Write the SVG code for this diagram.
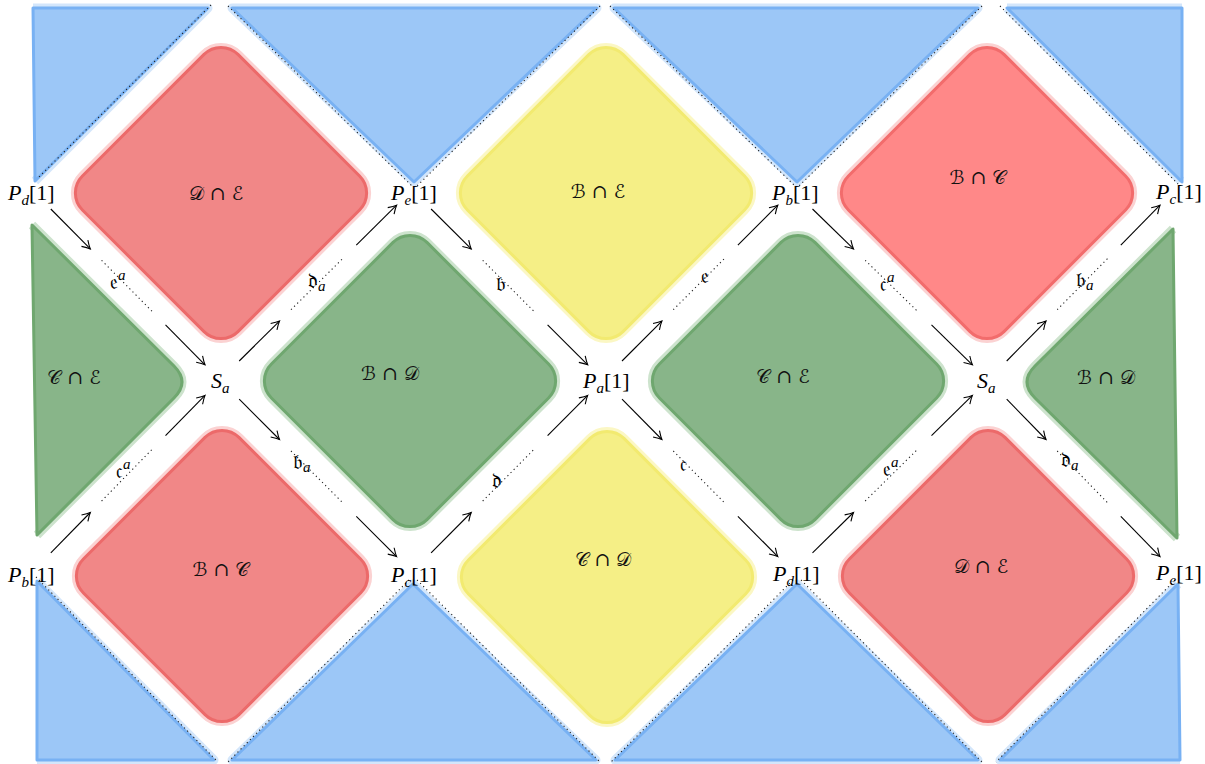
<svg xmlns="http://www.w3.org/2000/svg" width="1205" height="764" viewBox="0 0 1205 764">
<defs>
<style>
.halo{stroke-width:9;stroke-linejoin:round;fill:none}
.edge{stroke-width:3;stroke-linejoin:round}
.red .halo{stroke:#fbd2d2}.red .edge{stroke:#ec6a6a;fill:#f18787}
.redb .halo{stroke:#fbd2d2}.redb .edge{stroke:#f26c6c;fill:#ff8888}
.yel .halo{stroke:#fbf7c4}.yel .edge{stroke:#f2ea70;fill:#f5ef86}
.grn .halo{stroke:#cde3cd}.grn .edge{stroke:#6fa76f;fill:#88b589}
.blu .halo{stroke:#d3e6fb}.blu .edge{stroke:#78b1f3;fill:#9cc7f7}
.dots{stroke:#222;stroke-width:1.1;stroke-dasharray:1.2 3.2;fill:none}
.arr{stroke:#000;stroke-width:1.1;fill:none;marker-end:url(#ah)}
.lbl{font-family:"DejaVu Serif","DejaVu Sans","Noto Sans",serif;font-size:19px;fill:#111}
.node{font-family:"Liberation Serif",serif;font-size:22px;fill:#000}
.it{font-style:italic}
.sub{font-family:"Liberation Serif",serif;font-style:italic;font-size:15px}
.frak{font-family:"DejaVu Serif","DejaVu Sans","Noto Sans",serif;font-size:21px;fill:#000}
</style>
<marker id="ah" viewBox="-9 -6 11 12" refX="0" refY="0" markerWidth="11" markerHeight="12" markerUnits="userSpaceOnUse" orient="auto">
<path d="M-8,-4.5 Q-3,-1.2 0,0 Q-3,1.2 -8,4.5" stroke="#000" stroke-width="1.1" fill="none"/>
</marker>
<rect id="dia" x="-110" y="-110" width="220" height="220" rx="24"/>
</defs>

<g id="blue-triangles" class="blu">
<g id="blue-tl"><path class="halo" d="M33,8 L208,8 L35,181"/><path class="edge" d="M33,8 L208,8 L35,181 Z"/></g>
<g id="blue-t1"><path class="halo" d="M232,8 L597,8 L414,182 Z"/><path class="edge" d="M232,8 L597,8 L414,182 Z"/></g>
<g id="blue-t2"><path class="halo" d="M614,8 L978,8 L797,182 Z"/><path class="edge" d="M614,8 L978,8 L797,182 Z"/></g>
<g id="blue-tr"><path class="halo" d="M1007,8 L1182,8 M1007,8 L1181,181"/><path class="edge" d="M1007,8 L1182,8 L1182,182 Z"/></g>
<g id="blue-bl"><path class="halo" d="M37,581 L214,760 L37,760"/><path class="edge" d="M37,581 L214,760 L37,760 Z"/></g>
<g id="blue-b1"><path class="halo" d="M413,584 L596,760 L232,760 Z"/><path class="edge" d="M413,584 L596,760 L232,760 Z"/></g>
<g id="blue-b2"><path class="halo" d="M797,584 L978,760 L615,760 Z"/><path class="edge" d="M797,584 L978,760 L615,760 Z"/></g>
<g id="blue-br"><path class="halo" d="M1178,584 L1000,760 L1180,760"/><path class="edge" d="M1178,584 L1180,760 L1000,760 Z"/></g>
</g>

<g id="blue-dots">
<path class="dots" d="M211,5 L37,179"/>
<path class="dots" d="M228,6 L412,186"/>
<path class="dots" d="M600,6 L417,186"/>
<path class="dots" d="M610,6 L795,186"/>
<path class="dots" d="M982,6 L799,186"/>
<path class="dots" d="M1000,6 L1178,184"/>
<path class="dots" d="M36,577 L218,762"/>
<path class="dots" d="M409,580 L228,762"/>
<path class="dots" d="M417,580 L600,762"/>
<path class="dots" d="M793,580 L611,762"/>
<path class="dots" d="M801,580 L982,762"/>
<path class="dots" d="M1175,580 L996,762"/>
</g>

<g id="n-de-top" class="red"><use href="#dia" class="halo" transform="translate(221,193) rotate(45)"/><use href="#dia" class="edge" transform="translate(221,193) rotate(45)"/><text class="lbl" x="216" y="200" text-anchor="middle">𝒟 ∩ ℰ</text></g>
<g id="n-be-top" class="yel"><use href="#dia" class="halo" transform="translate(606,193) rotate(45)"/><use href="#dia" class="edge" transform="translate(606,193) rotate(45)"/><text class="lbl" x="598" y="198" text-anchor="middle">ℬ ∩ ℰ</text></g>
<g id="n-bc-top" class="redb"><use href="#dia" class="halo" transform="translate(987,193) rotate(45)"/><use href="#dia" class="edge" transform="translate(987,193) rotate(45)"/><text class="lbl" x="978" y="184" text-anchor="middle">ℬ ∩ 𝒞</text></g>
<g id="n-bd-mid" class="grn"><use href="#dia" class="halo" transform="translate(410,381) rotate(45)"/><use href="#dia" class="edge" transform="translate(410,381) rotate(45)"/><text class="lbl" x="390" y="380" text-anchor="middle">ℬ ∩ 𝒟</text></g>
<g id="n-ce-mid" class="grn"><use href="#dia" class="halo" transform="translate(798,381) rotate(45)"/><use href="#dia" class="edge" transform="translate(798,381) rotate(45)"/><text class="lbl" x="783" y="383" text-anchor="middle">𝒞 ∩ ℰ</text></g>
<g id="n-bc-bot" class="red"><use href="#dia" class="halo" transform="translate(222,576) rotate(45)"/><use href="#dia" class="edge" transform="translate(222,576) rotate(45)"/><text class="lbl" x="221" y="576" text-anchor="middle">ℬ ∩ 𝒞</text></g>
<g id="n-cd-bot" class="yel"><use href="#dia" class="halo" transform="translate(607,577) rotate(45)"/><use href="#dia" class="edge" transform="translate(607,577) rotate(45)"/><text class="lbl" x="603" y="566" text-anchor="middle">𝒞 ∩ 𝒟</text></g>
<g id="n-de-bot" class="red"><use href="#dia" class="halo" transform="translate(988,576) rotate(45)"/><use href="#dia" class="edge" transform="translate(988,576) rotate(45)"/><text class="lbl" x="981" y="573" text-anchor="middle">𝒟 ∩ ℰ</text></g>
<g id="n-ce-left" class="grn"><path class="halo" d="M32,225 L174,366 Q190,382 174,398 L37,535"/><path class="edge" d="M32,225 L174,366 Q190,382 174,398 L37,535 Z"/><text class="lbl" x="74" y="384" text-anchor="middle">𝒞 ∩ ℰ</text></g>
<g id="n-bd-right" class="grn"><path class="halo" d="M1173,229 L1035,366 Q1019,382 1035,398 L1177,538"/><path class="edge" d="M1173,229 L1035,366 Q1019,382 1035,398 L1177,538 Z"/><text class="lbl" x="1106" y="384" text-anchor="middle">ℬ ∩ 𝒟</text></g>

<g id="connectors">
<g id="e1"><path class="arr" d="M50.8,209 L90.3,248.9"/><path class="dots" d="M101.6,260.3 L152.3,311.6"/><path class="arr" d="M165.5,324.9 L205,364.8"/><text class="frak" x="110" y="289">𝔢<tspan class="sub" font-size="14" dy="-9">a</tspan></text></g>
<g id="e2"><path class="arr" d="M239.2,361 L279.5,321.1"/><path class="dots" d="M291,309.7 L342.9,258.4"/><path class="arr" d="M356.3,245.1 L396.6,205.2"/><text class="frak" x="308" y="288">𝔡<tspan class="sub" font-size="14" dy="3">a</tspan></text></g>
<g id="e3"><path class="arr" d="M431.1,209 L471.2,248.9"/><path class="dots" d="M482.7,260.3 L534.2,311.6"/><path class="arr" d="M547.6,324.9 L587.7,364.8"/><text class="frak" x="496" y="291">𝔟</text></g>
<g id="e4"><path class="arr" d="M622,361 L661.9,321.1"/><path class="dots" d="M673.3,309.7 L724.6,258.4"/><path class="arr" d="M737.9,245.1 L777.8,205.2"/><text class="frak" x="701" y="283">𝔢</text></g>
<g id="e5"><path class="arr" d="M812.5,209 L853.5,248.9"/><path class="dots" d="M865.2,260.3 L917.8,311.6"/><path class="arr" d="M931.5,324.9 L972.4,364.8"/><text class="frak" x="880" y="291">𝔠<tspan class="sub" font-size="14" dy="-9">a</tspan></text></g>
<g id="e6"><path class="arr" d="M1006.7,361 L1046,321.1"/><path class="dots" d="M1057.2,309.7 L1107.7,258.4"/><path class="arr" d="M1120.8,245.1 L1160,205.2"/><text class="frak" x="1076" y="287">𝔟<tspan class="sub" font-size="14" dy="3">a</tspan></text></g>
<g id="e7"><path class="arr" d="M50.8,552.8 L90.3,512.5"/><path class="dots" d="M101.6,501 L152.3,449.1"/><path class="arr" d="M165.5,435.7 L205,395.4"/><text class="frak" x="116" y="478">𝔠<tspan class="sub" font-size="14" dy="-9">a</tspan></text></g>
<g id="e8"><path class="arr" d="M239.2,399.2 L279.5,439.5"/><path class="dots" d="M291,451 L342.9,502.9"/><path class="arr" d="M356.3,516.3 L396.6,556.6"/><text class="frak" x="293" y="469">𝔟<tspan class="sub" font-size="14" dy="3">a</tspan></text></g>
<g id="e9"><path class="arr" d="M431.1,552.8 L471.2,512.5"/><path class="dots" d="M482.7,501 L534.2,449.1"/><path class="arr" d="M547.6,435.7 L587.7,395.4"/><text class="frak" x="492" y="488">𝔡</text></g>
<g id="e10"><path class="arr" d="M622,399.2 L661.9,439.5"/><path class="dots" d="M673.3,451 L724.6,502.9"/><path class="arr" d="M737.9,516.3 L777.8,556.6"/><text class="frak" x="680" y="471">𝔠</text></g>
<g id="e11"><path class="arr" d="M812.5,552.8 L853.5,512.5"/><path class="dots" d="M865.2,501 L917.8,449.1"/><path class="arr" d="M931.5,435.7 L972.4,395.4"/><text class="frak" x="883" y="476">𝔢<tspan class="sub" font-size="14" dy="-9">a</tspan></text></g>
<g id="e12"><path class="arr" d="M1006.7,399.2 L1046,439.5"/><path class="dots" d="M1057.2,451 L1107.7,502.9"/><path class="arr" d="M1120.8,516.3 L1160,556.6"/><text class="frak" x="1061" y="467">𝔡<tspan class="sub" font-size="14" dy="3">a</tspan></text></g>
</g>

<g id="node-labels">
<g id="v-pd-top"><text class="node" x="8" y="200"><tspan class="it">P</tspan><tspan class="sub" dy="5">d</tspan><tspan dy="-5">[1]</tspan></text></g>
<g id="v-pe-top"><text class="node" x="391" y="200"><tspan class="it">P</tspan><tspan class="sub" dy="5">e</tspan><tspan dy="-5">[1]</tspan></text></g>
<g id="v-pb-top"><text class="node" x="772" y="200"><tspan class="it">P</tspan><tspan class="sub" dy="5">b</tspan><tspan dy="-5">[1]</tspan></text></g>
<g id="v-pc-top"><text class="node" x="1156" y="199"><tspan class="it">P</tspan><tspan class="sub" dy="5">c</tspan><tspan dy="-5">[1]</tspan></text></g>
<g id="v-sa-left"><text class="node" x="211" y="388"><tspan class="it">S</tspan><tspan class="sub" dy="5">a</tspan></text></g>
<g id="v-pa"><text class="node" x="583" y="388"><tspan class="it">P</tspan><tspan class="sub" dy="5">a</tspan><tspan dy="-5">[1]</tspan></text></g>
<g id="v-sa-right"><text class="node" x="977" y="388"><tspan class="it">S</tspan><tspan class="sub" dy="5">a</tspan></text></g>
<g id="v-pb-bot"><text class="node" x="8" y="582"><tspan class="it">P</tspan><tspan class="sub" dy="5">b</tspan><tspan dy="-5">[1]</tspan></text></g>
<g id="v-pc-bot"><text class="node" x="391" y="582"><tspan class="it">P</tspan><tspan class="sub" dy="5">c</tspan><tspan dy="-5">[1]</tspan></text></g>
<g id="v-pd-bot"><text class="node" x="773" y="581"><tspan class="it">P</tspan><tspan class="sub" dy="5">d</tspan><tspan dy="-5">[1]</tspan></text></g>
<g id="v-pe-bot"><text class="node" x="1156" y="580"><tspan class="it">P</tspan><tspan class="sub" dy="5">e</tspan><tspan dy="-5">[1]</tspan></text></g>
</g>
</svg>
